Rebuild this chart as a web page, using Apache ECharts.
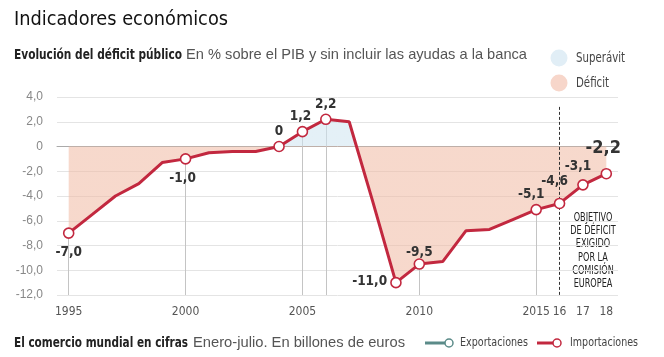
<!DOCTYPE html>
<html><head><meta charset="utf-8">
<script src="https://cdn.jsdelivr.net/npm/echarts@6/dist/echarts.min.js"></script>
<style>html,body{margin:0;padding:0;background:#fff}#c{width:664px;height:357px}</style>
</head><body><div id="c"></div>
<script>
// ---- data ----
const years = [1995,1996,1997,1998,1999,2000,2001,2002,2003,2004,2005,2006,2007,2008,2009,2010,2011,2012,2013,2014,2015,2016,2017,2018];
const deficit = [-7.0,-5.5,-4.0,-3.0,-1.3,-1.0,-0.5,-0.4,-0.4,0,1.2,2.2,2.0,-4.4,-11.0,-9.5,-9.3,-6.8,-6.7,-5.9,-5.1,-4.6,-3.1,-2.2];
const markerYears = [1995,2000,2004,2005,2006,2009,2010,2015,2016,2017,2018];
const dropYears = [1995,2000,2005,2006,2010,2015];
const tickYears = [1995,2000,2005,2010,2015,2016,2017,2018];
const tickTexts = ['1995','2000','2005','2010','2015','16','17','18'];
const targetYear = 2016;
const yMin = -12, yMax = 4, yStep = 2;

// ---- styles ----
const COND = '"Liberation Sans Narrow","DejaVu Sans Condensed","Roboto",sans-serif';
const REG = '"Liberation Sans","Arial",sans-serif';
const RED = '#c2283f';
const labelStyle = {
  1995:{position:'bottom',offset:[0,5]},
  2000:{position:'bottom',offset:[-3,5]},
  2004:{position:'top',offset:[0,0]},
  2005:{position:'top',offset:[-2,0]},
  2006:{position:'top',offset:[0,0]},
  2009:{position:'left',offset:[-1,-1]},
  2010:{position:'top',offset:[0,3]},
  2015:{position:'top',offset:[-5,0]},
  2016:{position:'top',offset:[-5,-7]},
  2017:{position:'top',offset:[-5,-4]},
  2018:{position:'top',offset:[-3,-9],fontSize:18}
};
const fmt = v => v === 0 ? '0' : v.toFixed(1).replace('.', ',');
const valOf = y => deficit[years.indexOf(y)];

const markerData = years.map((y,i) => {
  if (markerYears.indexOf(y) < 0) return '-';
  const s = labelStyle[y] || {};
  return {value: deficit[i], label: Object.assign({show:true, formatter: fmt(deficit[i])}, s)};
});

// text fitted horizontally to the reference's width
const mctx = document.createElement('canvas').getContext('2d');
function fitText(x, y, text, family, size, weight, fill, width, extraStyle) {
  mctx.font = (weight||'normal') + ' ' + size + 'px ' + family;
  const w = mctx.measureText(text.split('\n').reduce((a,b)=>b.length>a.length?b:a,'')).width;
  return {type:'text', x:x, y:y, scaleX: width / w,
    style:Object.assign({text:text, fontFamily:family, fontSize:size, fontWeight:weight||'normal', fill:fill, verticalAlign:'middle'}, extraStyle||{})};
}
function scaleFor(text, family, size, weight, width){ mctx.font=(weight||'normal')+' '+size+'px '+family; return width/mctx.measureText(text).width; }
const legScale = scaleFor('Superávit', COND, 14, 'normal', 49);

const chart = echarts.init(document.getElementById('c'), null, {renderer:'canvas'});
chart.setOption({
  animation:false,
  textStyle:{fontFamily:COND},
  grid:{left:57, right:46, top:97, bottom:62},
  xAxis:{
    type:'category', data:years.map(String), boundaryGap:true,
    axisLine:{lineStyle:{color:'#aaa'}},
    axisTick:{alignWithLabel:true, interval:0, length:5, lineStyle:{color:'#aaa'}},
    axisLabel:{interval:(i,v)=>tickYears.indexOf(+v)>=0, formatter:v=>{const k=tickYears.indexOf(+v);return k>=0?tickTexts[k]:'';},
      fontFamily:COND, fontSize:12, color:'#555', margin:11},
    splitLine:{show:false}
  },
  yAxis:{
    type:'value', min:yMin, max:yMax, interval:yStep,
    axisLine:{show:false}, axisTick:{show:false},
    axisLabel:{formatter:fmt, fontFamily:REG, fontSize:12, color:'#888', margin:14},
    splitLine:{lineStyle:{color:'#e4e4e4'}}
  },
  visualMap:{show:false, type:'piecewise', seriesIndex:0, dimension:1,
    pieces:[{gte:-20, lte:0, color:'#f0bba5'},{gt:0, lte:20, color:'#cfe4f0'}]},
  series:[
    {type:'line', data:deficit, symbol:'none', z:3,
     lineStyle:{color:RED, width:3}, areaStyle:{opacity:0.57}},
    {type:'scatter', data:markerData, symbol:'circle', symbolSize:10, z:4,
     itemStyle:{color:'#fff', borderColor:RED, borderWidth:1.6, opacity:1},
     label:{fontFamily:COND, fontWeight:'bold', fontSize:13.5, color:'#333', distance:2},
     markLine:{silent:true, symbol:'none', z:2, label:{show:false},
       lineStyle:{color:'#c4c4c4', width:1, type:'solid'},
       data:dropYears.map(y=>[{coord:[String(y), valOf(y)]},{coord:[String(y), yMin]}])}
    },
    {type:'line', data:[], z:3.5,
     markLine:{silent:true, symbol:'none', z:3.5, label:{show:false},
       lineStyle:{color:'#333', width:1, type:[3,2]},
       data:[[{coord:[String(targetYear), 3.2]},{coord:[String(targetYear), yMin]}]]}}
  ],
  graphic:[
    fitText(14, 20, 'Indicadores económicos', COND, 20, 'normal', '#111', 214),
    fitText(14, 55, 'Evolución del déficit público', COND, 14, 'bold', '#222', 168),
    fitText(186, 55, 'En % sobre el PIB y sin incluir las ayudas a la banca', REG, 14.5, 'normal', '#555', 341),
    fitText(14, 343, 'El comercio mundial en cifras', COND, 14, 'bold', '#222', 174),
    fitText(193, 343, 'Enero-julio. En billones de euros', REG, 14.5, 'normal', '#555', 212),
    {type:'circle', shape:{cx:559,cy:58,r:8.5}, style:{fill:'#e1eef6'}},
    {type:'text', x:576, y:58, scaleX:legScale, style:{text:'Superávit', fontFamily:COND, fontSize:14, fill:'#444', verticalAlign:'middle'}},
    {type:'circle', shape:{cx:559,cy:83,r:8.5}, style:{fill:'#f7d6ca'}},
    {type:'text', x:576, y:83, scaleX:legScale, style:{text:'Déficit', fontFamily:COND, fontSize:14, fill:'#444', verticalAlign:'middle'}},
    fitText(593, 211, 'OBJETIVO\nDE DÉFICIT\nEXIGIDO\nPOR LA\nCOMISIÓN\nEUROPEA', COND, 12, 'normal', '#222', 45.5, {lineHeight:13.3, align:'center', verticalAlign:'top'}),
    {type:'line', shape:{x1:425,y1:343,x2:446,y2:343}, style:{stroke:'#5b8b89', lineWidth:3}},
    {type:'circle', shape:{cx:449,cy:343,r:4}, style:{fill:'#fff', stroke:'#5b8b89', lineWidth:1.5}},
    fitText(460, 343, 'Exportaciones', COND, 13, 'normal', '#444', 68),
    {type:'line', shape:{x1:537,y1:343,x2:554,y2:343}, style:{stroke:RED, lineWidth:3}},
    {type:'circle', shape:{cx:557,cy:343,r:4}, style:{fill:'#fff', stroke:RED, lineWidth:1.5}},
    fitText(570, 343, 'Importaciones', COND, 13, 'normal', '#444', 68)
  ]
});
</script></body></html>
